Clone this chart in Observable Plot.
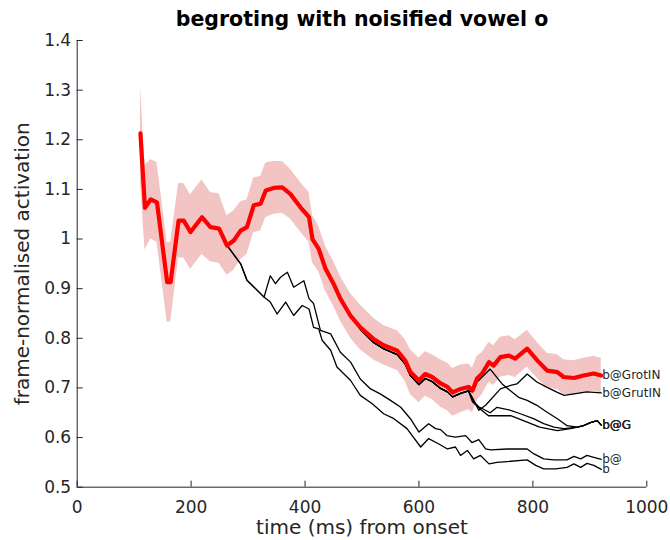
<!DOCTYPE html>
<html><head><meta charset="utf-8">
<script src="https://cdn.jsdelivr.net/npm/d3@7"></script>
<script src="https://cdn.jsdelivr.net/npm/@observablehq/plot@0.6"></script>
<style>
body{margin:0;background:#fff;font-family:"DejaVu Sans",sans-serif;}
#wrap{position:relative;width:670px;height:540px;}
#title{position:absolute;top:7px;left:77px;width:570px;text-align:center;font-weight:bold;font-size:20.5px;color:#000;white-space:nowrap;}
</style></head><body>
<div id="wrap"><div id="title">begroting with noisified vowel o</div></div>
<script>
// ---- Data ----
const chartTitle = "begroting with noisified vowel o";
const xLabel = "time (ms) from onset";
const yLabel = "frame-normalised activation";
const xTicks = [0, 200, 400, 600, 800, 1000];
const xTickLabels = ["0", "200", "400", "600", "800", "1000"];
const yTicks = [0.5, 0.6, 0.7, 0.8, 0.9, 1, 1.1, 1.2, 1.3, 1.4];
const yTickLabels = ["0.5","0.6","0.7","0.8","0.9","1","1.1","1.2","1.3","1.4"];

// target word b@GrotIN (red) with its error band half-width
const targetName = "b@GrotIN";
const targetTime = [111,119,129,140,158,164,178,187,199,219,234,249,263,275,287,298,310,322,331,345,360,374,392,407,413,424,436,450,462,480,497,521,538,562,576,585,600,611,623,638,650,659,673,687,694,702,711,723,731,743,758,769,790,808,825,843,854,872,889,907,920];
const targetValue = [1.213,1.063,1.080,1.074,0.913,0.913,1.037,1.037,1.014,1.044,1.024,1.021,0.987,0.997,1.017,1.024,1.068,1.071,1.098,1.103,1.104,1.091,1.064,1.044,1.000,0.980,0.940,0.910,0.880,0.845,0.822,0.798,0.786,0.775,0.755,0.732,0.715,0.728,0.722,0.709,0.702,0.691,0.698,0.702,0.695,0.719,0.729,0.752,0.745,0.762,0.765,0.759,0.779,0.755,0.735,0.732,0.722,0.720,0.725,0.729,0.725];
const targetSem = [0.095,0.085,0.08,0.08,0.08,0.08,0.075,0.075,0.075,0.075,0.07,0.07,0.06,0.06,0.058,0.055,0.055,0.055,0.055,0.053,0.052,0.05,0.05,0.05,0.048,0.046,0.045,0.045,0.045,0.045,0.045,0.042,0.04,0.04,0.042,0.045,0.045,0.045,0.045,0.048,0.048,0.048,0.048,0.046,0.045,0.045,0.042,0.04,0.04,0.04,0.04,0.038,0.037,0.036,0.035,0.035,0.035,0.035,0.035,0.035,0.035];

// competitor b@
const bAtName = "b@";
const bAtTime = [263,287,298,328,339,348,357,369,380,398,407,415,427,445,462,480,497,515,532,550,568,585,600,617,629,638,649,664,682,693,705,717,726,755,790,802,819,837,860,872,884,895,907,920];
const bAtValue = [0.987,0.950,0.917,0.883,0.926,0.910,0.923,0.933,0.903,0.916,0.880,0.870,0.816,0.809,0.772,0.752,0.718,0.698,0.688,0.675,0.661,0.638,0.611,0.628,0.618,0.616,0.604,0.601,0.604,0.590,0.596,0.577,0.575,0.577,0.577,0.567,0.557,0.555,0.555,0.562,0.557,0.564,0.560,0.556];

// competitor b
const bName = "b";
const bTime = [263,287,298,328,339,351,366,380,395,407,415,424,430,445,456,480,497,518,538,556,579,603,617,635,650,664,673,685,696,708,723,737,790,805,819,840,860,872,884,895,907,920];
const bValue = [0.987,0.950,0.917,0.883,0.873,0.849,0.873,0.846,0.866,0.859,0.822,0.819,0.796,0.776,0.742,0.715,0.685,0.668,0.648,0.638,0.618,0.581,0.598,0.587,0.577,0.581,0.564,0.574,0.557,0.564,0.547,0.550,0.555,0.544,0.537,0.537,0.540,0.547,0.540,0.548,0.544,0.536];

// path shared by the late competitors just under the target
const trackTime = [497,521,538,562,576,585,600,611,623,638,650,659,673,687];
const trackValue = [0.818,0.791,0.779,0.767,0.748,0.725,0.707,0.719,0.713,0.699,0.692,0.682,0.689,0.694];

// competitor b@GrutIN
const grutName = "b@GrutIN";
const grutTime = [694,705,717,743,761,772,790,807,825,843,855,872,895,920];
const grutValue = [0.680,0.655,0.665,0.698,0.705,0.708,0.728,0.712,0.701,0.691,0.685,0.688,0.692,0.690];

// three competitors ending at b@G
const gName = "b@G";
const g1Time = [694,702,711,725,746,760,775,790,807,825,843,860];
const g1Value = [0.692,0.712,0.722,0.738,0.708,0.695,0.681,0.675,0.665,0.651,0.638,0.624];
const g2Time = [694,705,725,737,761,778,801,819,837,854,870];
const g2Value = [0.675,0.662,0.650,0.661,0.655,0.648,0.638,0.628,0.621,0.618,0.620];
const g3Time = [694,710,722,761,790,812,843,866];
const g3Value = [0.672,0.655,0.644,0.644,0.631,0.621,0.614,0.618];
const gTailTime = [878,889,901,913,920];
const gTailValue = [0.621,0.624,0.630,0.634,0.625];

// ---- Build tables ----
const rows = (id, ts, vs) => ts.map((t, i) => ({series: id, time: t, value: vs[i]}));
const targetRows = targetTime.map((t, i) => ({time: t, value: targetValue[i], lo: targetValue[i] - targetSem[i], hi: targetValue[i] + targetSem[i]}));
const competitors = [
  {id: "bAt", name: bAtName, rows: rows("bAt", bAtTime, bAtValue)},
  {id: "b", name: bName, rows: rows("b", bTime, bValue)},
  {id: "grut", name: grutName, rows: rows("grut", trackTime.concat(grutTime), trackValue.concat(grutValue))},
  {id: "g1", name: gName, rows: rows("g1", trackTime.concat(g1Time, gTailTime), trackValue.concat(g1Value, gTailValue))},
  {id: "g2", name: gName, rows: rows("g2", trackTime.concat(g2Time, gTailTime), trackValue.concat(g2Value, gTailValue))},
  {id: "g3", name: gName, rows: rows("g3", trackTime.concat(g3Time, gTailTime), trackValue.concat(g3Value, gTailValue))}
];
const blackRows = competitors.flatMap(c => c.rows);
const labels = competitors.map(c => ({...c.rows[c.rows.length - 1], name: c.name}));
labels.push({time: targetTime[targetTime.length - 1], value: targetValue[targetValue.length - 1], name: targetName});

const axisColor = "#262626";
const chart = Plot.plot({
  width: 670,
  height: 540,
  marginTop: 40,
  marginBottom: 53.3,
  marginLeft: 76.7,
  marginRight: 23.7,
  style: {fontFamily: "DejaVu Sans", background: "transparent", color: axisColor, overflow: "visible"},
  x: {domain: [0, 1000], label: null},
  y: {domain: [0.5, 1.4], label: null},
  marks: [
    Plot.areaY(targetRows, {x: "time", y1: "lo", y2: "hi", fill: "#f2c4c4"}),
    Plot.line(blackRows, {x: "time", y: "value", z: "series", stroke: "#000", strokeWidth: 1.3}),
    Plot.line(targetRows, {x: "time", y: "value", stroke: "#ff0000", strokeWidth: 4.2}),
    Plot.text(labels, {x: "time", y: "value", text: "name", textAnchor: "start", dx: 1, fontSize: 12, fill: axisColor}),
    Plot.ruleY([0.5], {stroke: axisColor, strokeWidth: 1}),
    Plot.ruleX([0], {stroke: axisColor, strokeWidth: 1}),
    Plot.axisX(xTicks, {tickSize: -6, fill: "none", stroke: axisColor, label: null}),
    Plot.axisX(xTicks, {tickSize: 0, tickPadding: 14, fontSize: 17, fill: axisColor, label: null, tickFormat: d => xTickLabels[xTicks.indexOf(d)]}),
    Plot.axisY(yTicks, {tickSize: -6, fill: "none", stroke: axisColor, label: null}),
    Plot.axisY(yTicks, {tickSize: 0, tickPadding: 6, fontSize: 17, fill: axisColor, label: null, tickFormat: d => yTickLabels[yTicks.indexOf(d)]}),
    Plot.text([xLabel], {frameAnchor: "bottom", dy: 40, fontSize: 20, fill: axisColor, textAnchor: "middle", lineAnchor: "middle"}),
    Plot.text([yLabel], {frameAnchor: "left", dx: -55, rotate: -90, fontSize: 20, fill: axisColor, textAnchor: "middle", lineAnchor: "middle"})
  ]
});
document.getElementById("wrap").prepend(chart);
document.getElementById("title").textContent = chartTitle;
</script>
</body></html>
